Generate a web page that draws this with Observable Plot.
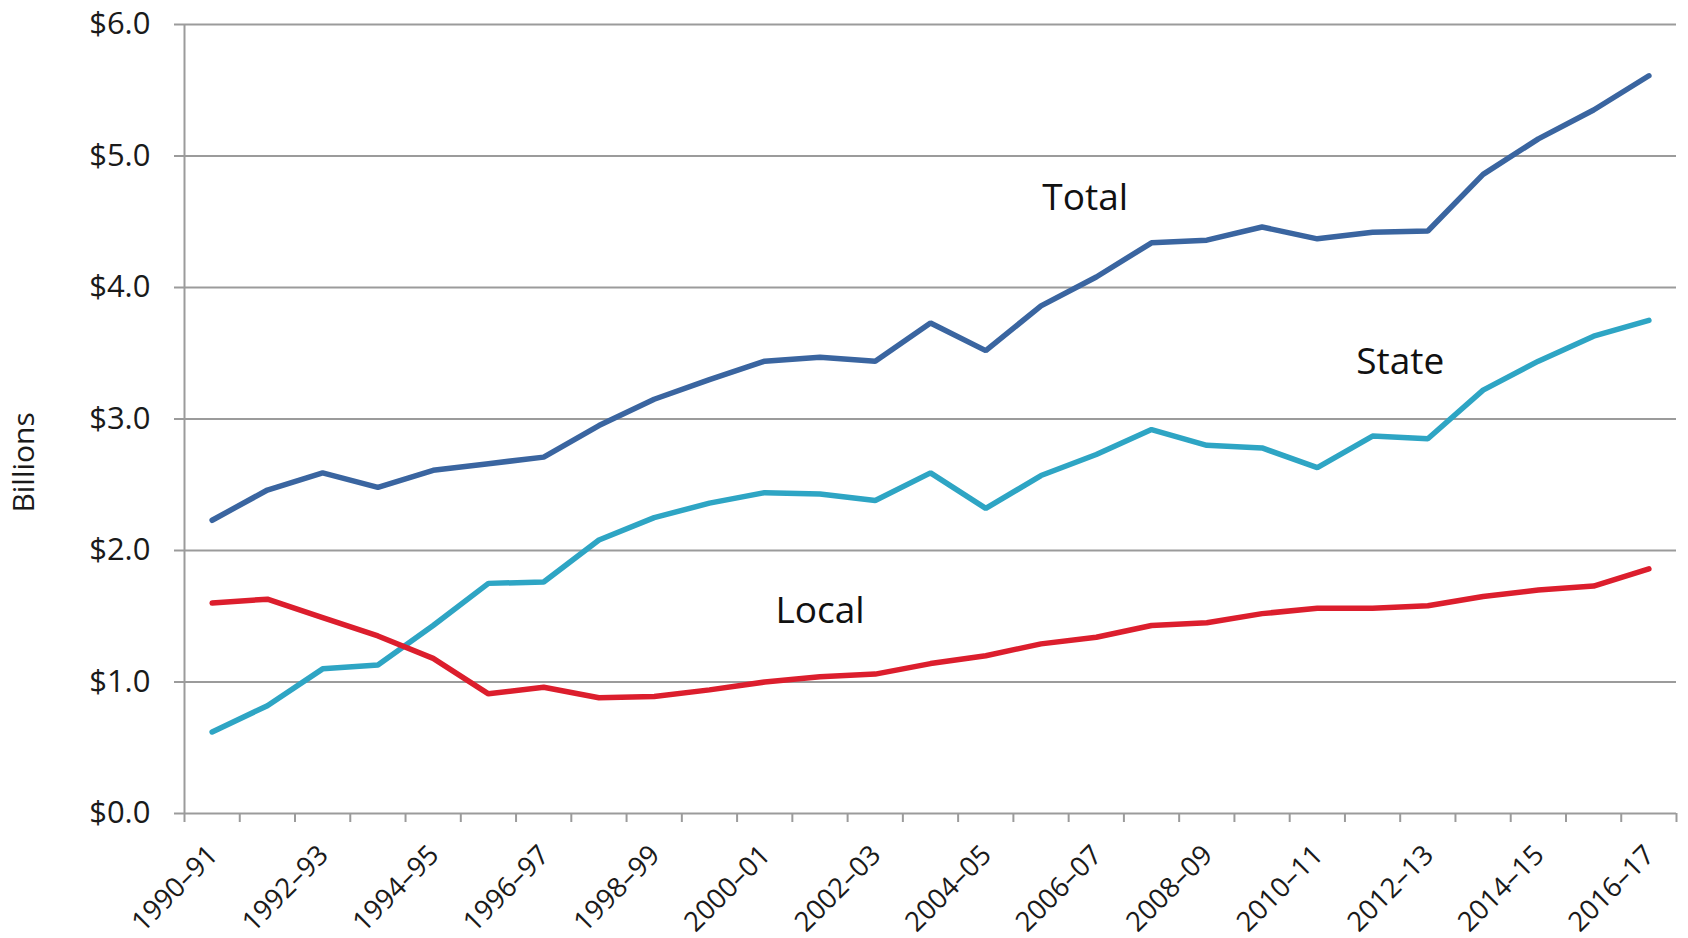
<!DOCTYPE html>
<html>
<head>
<meta charset="utf-8">
<script src="https://cdn.jsdelivr.net/npm/d3@7"></script>
<script src="https://cdn.jsdelivr.net/npm/@observablehq/plot@0.6"></script>
<style>
  html, body { margin: 0; padding: 0; background: #fff; }
  #chart svg { display: block; }
</style>
</head>
<body>
<div id="chart"></div>
<script>
// ---- Data (values in billions of dollars) ----
const years = ["1990–91","1991–92","1992–93","1993–94","1994–95","1995–96","1996–97","1997–98","1998–99","1999–00",
  "2000–01","2001–02","2002–03","2003–04","2004–05","2005–06","2006–07","2007–08","2008–09","2009–10",
  "2010–11","2011–12","2012–13","2013–14","2014–15","2015–16","2016–17"];
const total = [2.23,2.46,2.59,2.48,2.61,2.66,2.71,2.95,3.15,3.30,3.44,3.47,3.44,3.73,3.52,3.86,4.08,4.34,4.36,4.46,4.37,4.42,4.43,4.86,5.13,5.35,5.61];
const state = [0.62,0.82,1.10,1.13,1.43,1.75,1.76,2.08,2.25,2.36,2.44,2.43,2.38,2.59,2.32,2.57,2.73,2.92,2.80,2.78,2.63,2.87,2.85,3.22,3.44,3.63,3.75];
const local = [1.60,1.63,1.49,1.35,1.18,0.91,0.96,0.88,0.89,0.94,1.00,1.04,1.06,1.14,1.20,1.29,1.34,1.43,1.45,1.52,1.56,1.56,1.58,1.65,1.70,1.73,1.86];
const seriesNames = ["Total", "State", "Local"];
const seriesColors = ["#3a65a0", "#2ea5c4", "#dc1e2d"];
const yTicks = [0, 1, 2, 3, 4, 5, 6];

// ---- Build table ----
const seriesValues = [total, state, local];
const rows = seriesNames.flatMap((name, s) =>
  seriesValues[s].map((v, i) => ({series: name, i, value: v})));
const idx = years.map((_, i) => i);
const labelIdx = idx.filter(i => i % 2 === 0);
const boundaries = d3.range(-0.5, years.length, 1);

const gridColor = "#9b9b9b";

const chart = Plot.plot({
  width: 1688,
  height: 938,
  marginLeft: 184,
  marginRight: 12,
  marginTop: 24,
  marginBottom: 125,
  style: {fontFamily: "'Open Sans', 'Noto Sans', sans-serif", color: "#1a1a1a", background: "#fff"},
  x: {domain: [-0.5, years.length - 0.5], axis: null},
  y: {domain: [0, 6], axis: null},
  color: {domain: seriesNames, range: seriesColors},
  marks: [
    Plot.gridY(yTicks, {stroke: gridColor, strokeOpacity: 1, strokeWidth: 2, insetLeft: -10}),
    Plot.ruleX([-0.5], {stroke: gridColor, strokeWidth: 2}),
    Plot.axisX({ticks: boundaries, tickSize: 9, tickFormat: () => "", label: null, stroke: gridColor, strokeWidth: 2}),
    Plot.axisY({ticks: yTicks, tickSize: 0, tickPadding: 34, label: null, tickFormat: d => "$" + d.toFixed(1),
      fontSize: 31, fill: "#1a1a1a"}),
    Plot.text(labelIdx, {x: d => d, text: d => years[d], frameAnchor: "bottom", dx: 1, dy: 37,
      rotate: -45, textAnchor: "end", lineAnchor: "middle", fontSize: 27.5, fill: "#1a1a1a"}),
    Plot.lineY(rows, {x: "i", y: "value", z: "series", stroke: "series", strokeWidth: 5.5,
      strokeLinecap: "round", strokeLinejoin: "miter"}),
    Plot.text(seriesNames, {x: [15.8, 21.5, 11.0], y: [4.68, 3.43, 1.54], text: d => d,
      fontSize: 37, fill: "#111", textAnchor: "middle", lineAnchor: "middle"}),
    Plot.text(["Billions"], {frameAnchor: "left", y: [2.67], text: d => d, dx: -160, rotate: -90,
      fontSize: 30, fill: "#1a1a1a", textAnchor: "middle", lineAnchor: "middle"})
  ]
});
document.getElementById("chart").appendChild(chart);
</script>
</body>
</html>
